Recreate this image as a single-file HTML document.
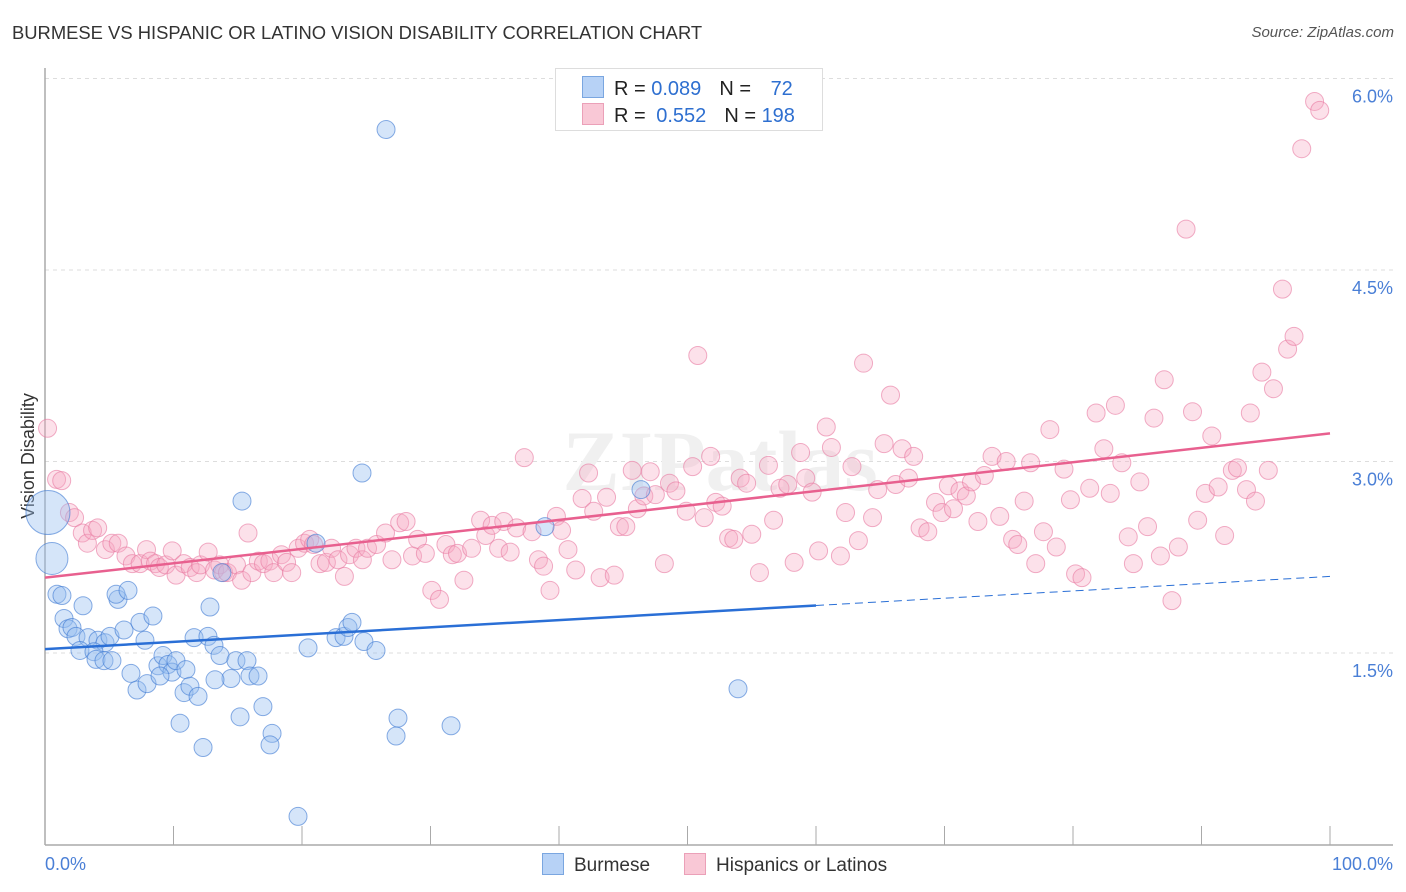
<!DOCTYPE html>
<html><head><meta charset="utf-8"><style>
body{margin:0;background:#fff;font-family:"Liberation Sans",sans-serif;}
#wrap{position:relative;width:1406px;height:892px;overflow:hidden;}
.t{position:absolute;white-space:nowrap;}
</style></head><body>
<div id="wrap">
<div class="t" style="left:12px;top:22px;font-size:18.4px;color:#333;">BURMESE VS HISPANIC OR LATINO VISION DISABILITY CORRELATION CHART</div>
<div class="t" style="right:12px;top:24px;font-size:15px;color:#555;font-style:italic;">Source: ZipAtlas.com</div>
<svg id="svg" width="1406" height="892" style="position:absolute;left:0;top:0"></svg>
</div>
<script>
const xTickLabels=["0.0%","100.0%"];
const yTicks=[1.5,3.0,4.5,6.0];
const yTickLabels=["1.5%","3.0%","4.5%","6.0%"];
const burX=[0.23,0.54,0.93,1.32,2.96,1.48,1.79,2.10,2.41,3.35,4.12,4.67,5.06,2.72,3.81,3.97,4.59,5.21,5.68,5.53,6.46,6.15,7.39,8.40,7.78,6.69,7.16,7.94,8.79,9.18,9.57,9.88,10.19,8.95,10.97,10.82,11.28,11.91,10.51,11.60,12.68,13.15,13.62,12.84,13.77,14.86,15.72,14.47,13.23,15.95,16.58,16.96,15.18,17.67,17.51,12.30,15.33,19.69,21.09,20.47,22.65,23.27,23.58,23.89,24.82,25.76,24.67,26.54,27.47,27.32,31.60,38.91,46.38,53.93];
const burY=[2.60,2.24,1.96,1.95,1.87,1.77,1.69,1.70,1.63,1.62,1.60,1.58,1.63,1.52,1.51,1.45,1.44,1.44,1.92,1.96,1.99,1.68,1.74,1.79,1.60,1.34,1.21,1.26,1.40,1.48,1.41,1.35,1.44,1.32,1.37,1.19,1.24,1.16,0.95,1.62,1.63,1.56,1.48,1.86,2.13,1.44,1.44,1.30,1.29,1.32,1.32,1.08,1.00,0.87,0.78,0.76,2.69,0.22,2.36,1.54,1.62,1.63,1.70,1.74,1.59,1.52,2.91,5.60,0.99,0.85,0.93,2.49,2.78,1.22];
const burSize=[22,16];
const hisX=[0.2,0.9,1.3,1.9,2.3,2.9,3.3,3.7,4.1,4.7,5.2,5.7,6.3,6.8,7.4,7.9,8.2,8.6,8.9,9.4,9.9,10.2,10.8,11.3,11.8,12.1,12.7,13.2,13.6,13.9,14.2,14.9,15.3,15.8,16.1,16.6,17.0,17.5,17.8,18.4,18.8,19.2,19.7,20.2,20.6,20.9,21.4,21.9,22.3,22.8,23.3,23.7,24.2,24.7,25.1,25.8,26.5,27.0,27.6,28.1,28.6,29.0,29.6,30.1,30.7,31.2,31.7,32.1,32.6,33.2,33.9,34.3,34.8,35.3,35.7,36.2,36.7,37.3,37.9,38.4,38.8,39.3,39.8,40.2,40.7,41.3,41.8,42.3,42.7,43.2,43.7,44.3,44.7,45.2,45.7,46.1,46.6,47.1,47.5,48.2,48.6,49.1,49.9,50.4,50.8,51.3,51.8,52.2,52.7,53.2,53.6,54.1,54.6,55.0,55.6,56.3,56.7,57.2,57.8,58.3,58.8,59.2,59.7,60.2,60.8,61.2,61.9,62.3,62.8,63.3,63.7,64.4,64.8,65.3,65.8,66.2,66.7,67.2,67.6,68.1,68.7,69.3,69.8,70.3,70.7,71.2,71.7,72.1,72.6,73.1,73.7,74.3,74.8,75.3,75.7,76.2,76.7,77.1,77.7,78.2,78.7,79.3,79.8,80.2,80.7,81.3,81.8,82.4,82.9,83.3,83.8,84.3,84.7,85.2,85.8,86.3,86.8,87.1,87.7,88.2,88.8,89.3,89.7,90.3,90.8,91.3,91.8,92.4,92.8,93.5,93.8,94.2,94.7,95.2,95.6,96.3,96.7,97.2,97.8,98.8,99.2];
const hisY=[3.26,2.86,2.85,2.60,2.56,2.44,2.36,2.46,2.48,2.31,2.36,2.36,2.26,2.20,2.20,2.31,2.22,2.20,2.17,2.19,2.30,2.11,2.20,2.17,2.13,2.19,2.29,2.15,2.19,2.13,2.13,2.19,2.07,2.44,2.13,2.22,2.20,2.22,2.13,2.27,2.21,2.13,2.32,2.36,2.39,2.35,2.20,2.21,2.32,2.23,2.10,2.27,2.32,2.23,2.32,2.35,2.44,2.23,2.52,2.53,2.26,2.39,2.28,1.99,1.92,2.35,2.27,2.28,2.07,2.32,2.54,2.42,2.50,2.32,2.53,2.29,2.48,3.03,2.45,2.23,2.18,1.99,2.57,2.46,2.31,2.15,2.71,2.91,2.61,2.09,2.72,2.11,2.49,2.49,2.93,2.63,2.73,2.92,2.74,2.20,2.83,2.77,2.61,2.96,3.83,2.56,3.04,2.68,2.65,2.40,2.39,2.87,2.83,2.43,2.13,2.97,2.54,2.79,2.82,2.21,3.07,2.87,2.76,2.30,3.27,3.11,2.26,2.60,2.96,2.38,3.77,2.56,2.78,3.14,3.52,2.82,3.10,2.87,3.04,2.48,2.45,2.68,2.60,2.81,2.63,2.77,2.73,2.84,2.53,2.89,3.04,2.57,3.00,2.39,2.35,2.69,2.99,2.20,2.45,3.25,2.33,2.94,2.70,2.12,2.09,2.79,3.38,3.10,2.75,3.44,2.99,2.41,2.20,2.84,2.49,3.34,2.26,3.64,1.91,2.33,4.82,3.39,2.54,2.75,3.20,2.80,2.42,2.93,2.95,2.78,3.38,2.69,3.70,2.93,3.57,4.35,3.88,3.98,5.45,5.82,5.75];
const burTrend=[1.53,0.0057];
const hisTrend=[2.09,0.0113];

const NS="http://www.w3.org/2000/svg";
const svg=document.getElementById('svg');
const X0=45,X1=1330,YB=844.5,PPU=127.67;
function sx(v){return X0+(v/100)*(X1-X0);}
function sy(v){return YB-v*PPU;}
function mk(tag,at,parent){const e=document.createElementNS(NS,tag);for(const k in at)e.setAttribute(k,at[k]);(parent||svg).appendChild(e);return e;}

yTicks.forEach((t,i)=>{
  const g=mk('line',{x1:X0,x2:1393,y1:sy(t),y2:sy(t),stroke:'#ddd','stroke-dasharray':'4,4','stroke-width':1});
  
  
  const tx=mk('text',{x:1393,y:sy(t)+24,'text-anchor':'end','font-size':18,fill:'#4a7fd6','font-family':'Liberation Sans, sans-serif'});
  tx.textContent=yTickLabels[i];
  
  
});
const ya=mk('line',{x1:X0,x2:X0,y1:68,y2:845,stroke:'#aaa','stroke-width':1.5});


const xa=mk('line',{x1:X0,x2:1393,y1:845,y2:845,stroke:'#aaa','stroke-width':1.5});


for(let i=1;i<=10;i++){
  const tk=mk('line',{x1:sx(i*10),x2:sx(i*10),y1:826,y2:845,stroke:'#aaa','stroke-width':1});
  
  
}
[[0,'start',X0],[1,'end',1393]].forEach(([i,a,x])=>{
  const t=mk('text',{x:x,y:870,'text-anchor':a,'font-size':18,fill:'#4a7fd6','font-family':'Liberation Sans, sans-serif'});
  t.textContent=xTickLabels[i];
  
  
});
const yt=mk('text',{x:0,y:0,transform:'translate(34,456) rotate(-90)','text-anchor':'middle','font-size':18,fill:'#333','font-family':'Liberation Sans, sans-serif'});
yt.textContent='Vision Disability';


const wm=mk('text',{x:720,y:490,'text-anchor':'middle','font-size':86,fill:'#f0f0f0','font-family':'Liberation Serif, serif','font-weight':'bold'});
wm.textContent='ZIPatlas';



hisX.forEach((x,i)=>{
  const c=mk('circle',{cx:sx(x),cy:sy(hisY[i]),r:9,fill:'rgba(246,170,195,0.35)',stroke:'rgba(232,120,160,0.6)','stroke-width':1});
  
  
});
burX.forEach((x,i)=>{
  const r=i<burSize.length?burSize[i]:9;
  const c=mk('circle',{cx:sx(x),cy:sy(burY[i]),r:r,fill:'rgba(150,190,240,0.4)',stroke:'rgba(60,120,210,0.6)','stroke-width':1});
  
  
});
const pl=mk('line',{x1:sx(0),y1:sy(hisTrend[0]),x2:sx(100),y2:sy(hisTrend[0]+hisTrend[1]*100),stroke:'#e8608f','stroke-width':2.5});


const bl=mk('line',{x1:sx(0),y1:sy(burTrend[0]),x2:sx(60),y2:sy(burTrend[0]+burTrend[1]*60),stroke:'#2a6fd6','stroke-width':2.5});


const bd=mk('line',{x1:sx(60),y1:sy(burTrend[0]+burTrend[1]*60),x2:sx(100),y2:sy(burTrend[0]+burTrend[1]*100),stroke:'#2a6fd6','stroke-width':1,'stroke-dasharray':'8,5'});


</script>
<div class="t" style="left:555px;top:68px;width:266px;height:61px;border:1px solid #ddd;background:#fff;font-size:20px;">
  <div style="position:absolute;left:26px;top:7px;"><span style="display:inline-block;width:20px;height:20px;background:#b7d2f6;border:1px solid #7aa6e0;vertical-align:-3px;"></span><span style="color:#222;margin-left:10px;">R = </span><span style="color:#2e6fd0;">0.089</span><span style="color:#222;margin-left:18px;">N = </span><span style="color:#2e6fd0;margin-left:14px;">72</span></div>
  <div style="position:absolute;left:26px;top:34px;"><span style="display:inline-block;width:20px;height:20px;background:#f9c8d6;border:1px solid #eba0b8;vertical-align:-3px;"></span><span style="color:#222;margin-left:10px;">R = </span><span style="color:#2e6fd0;margin-left:5px;">0.552</span><span style="color:#222;margin-left:18px;">N = </span><span style="color:#2e6fd0;">198</span></div>
</div>
<div class="t" style="left:542px;top:853px;font-size:19px;color:#333;"><span style="display:inline-block;width:20px;height:20px;background:#b7d2f6;border:1px solid #7aa6e0;vertical-align:-4px;margin-right:10px;"></span>Burmese</div>
<div class="t" style="left:684px;top:853px;font-size:19px;color:#333;"><span style="display:inline-block;width:20px;height:20px;background:#f9c8d6;border:1px solid #eba0b8;vertical-align:-4px;margin-right:10px;"></span>Hispanics or Latinos</div>
</body></html>
